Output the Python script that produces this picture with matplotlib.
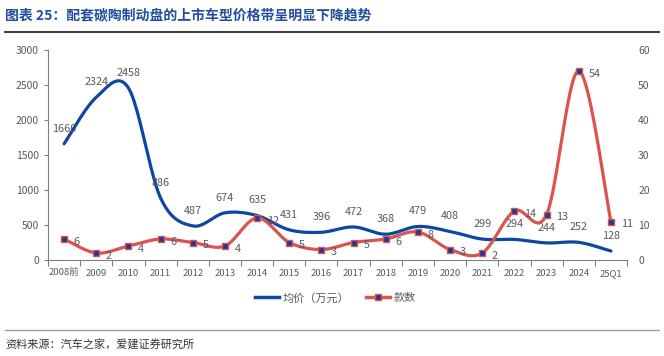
import matplotlib
matplotlib.use('Agg')
import matplotlib.pyplot as plt
import numpy as np
from matplotlib.lines import Line2D

plt.rcParams['font.family'] = ['Noto Sans CJK SC', 'DejaVu Sans']

categories = ['2008前', '2009', '2010', '2011', '2012', '2013', '2014', '2015', '2016',
              '2017', '2018', '2019', '2020', '2021', '2022', '2023', '2024', '25Q1']
avg_price = [1660, 2324, 2458, 886, 487, 674, 635, 431, 396, 472, 368, 479, 408, 299, 294, 244, 252, 128]
model_count = [6, 2, 4, 6, 5, 4, 12, 5, 3, 5, 6, 8, 3, 2, 14, 13, 54, 11]

BLUE = '#0D47A1'
RED = '#D9534F'
MARK = '#1A3A9C'
GRAY = '#595959'


def smooth(x, y, n=24):
    """ Excel-style smoothed line (Bezier through every point). """
    pts = np.column_stack([x, y]).astype(float)
    P = np.vstack([pts[0], pts, pts[-1]])
    segs = []
    for i in range(1, len(P) - 2):
        p0, p1, p2, p3 = P[i - 1], P[i], P[i + 1], P[i + 2]
        c1 = p1 + (p2 - p0) / 6
        c2 = p2 - (p3 - p1) / 6
        t = np.linspace(0, 1, n)[:, None]
        segs.append((1 - t) ** 3 * p1 + 3 * (1 - t) ** 2 * t * c1
                    + 3 * (1 - t) * t ** 2 * c2 + t ** 3 * p2)
    s = np.vstack(segs)
    return s[:, 0], s[:, 1]


fig = plt.figure(figsize=(6.64, 3.56), dpi=100)
ax = fig.add_axes([48 / 664, 1 - 260 / 356, (627 - 48) / 664, (260 - 50) / 356])
ax2 = ax.twinx()

x = np.arange(len(categories))

sx, sy = smooth(x, avg_price)
ax.plot(sx, sy, color=BLUE, lw=2.3, solid_capstyle='round', zorder=3)
for xi, v in zip(x, avg_price):
    ax.annotate(str(v), (xi, v), xytext=(0, 11), textcoords='offset points',
                ha='center', va='center', fontsize=7.8, color=GRAY)

sx2, sy2 = smooth(x, model_count)
ax2.plot(sx2, sy2, color=RED, lw=2.3, solid_capstyle='round', zorder=3)
ax2.plot(x, model_count, ls='none', marker='s', ms=5, mfc=MARK, mec=RED, mew=1.0, zorder=4)
for xi, v in zip(x, model_count):
    ax2.annotate(str(v), (xi, v), xytext=(7, -2), textcoords='offset points',
                 ha='left', va='center', fontsize=7.8, color=GRAY)

ax.set_xlim(-0.5, len(categories) - 0.5)
ax.set_ylim(0, 3000)
ax2.set_ylim(0, 60)
ax.set_yticks(range(0, 3001, 500))
ax2.set_yticks(range(0, 61, 10))
ax.set_xticks(x)
ax.set_xticklabels(categories, va='baseline')
ax.set_xticks(np.arange(-0.5, len(categories), 1), minor=True)
ax.tick_params(axis='x', which='major', length=0, labelsize=6.8, colors=GRAY, pad=11.5)
ax.tick_params(axis='x', which='minor', length=4, color='#808080', width=0.8)
ax.tick_params(axis='y', length=3, color='#808080', width=0.8, labelsize=7.5, colors=GRAY)
ax2.tick_params(axis='y', length=0, labelsize=7.5, colors=GRAY, pad=8)

for a in (ax, ax2):
    a.spines['top'].set_visible(False)
    a.spines['right'].set_visible(False)
ax2.spines['left'].set_visible(False)
ax2.spines['bottom'].set_visible(False)
ax.spines['left'].set_color('#808080')
ax.spines['bottom'].set_color('#808080')

handles = [Line2D([], [], color=BLUE, lw=2.5),
           Line2D([], [], color=RED, lw=2.5, marker='s', ms=5, mfc=MARK, mec=RED)]
fig.legend(handles, ['均价（万元）', '款数'], loc='center', bbox_to_anchor=(0.505, 1 - 298 / 356),
           ncol=2, frameon=False, fontsize=8, handlelength=2.2, columnspacing=1.5,
           handletextpad=0.3, labelcolor=GRAY)

fig.text(5 / 664, 1 - 15 / 356, '图表 25：配套碳陶制动盘的上市车型价格带呈明显下降趋势',
         fontsize=10, fontweight='bold', color='#1F4E9E', ha='left', va='center')
fig.add_artist(Line2D([5 / 664, 659 / 664], [1 - 32 / 356] * 2, color='#404040', lw=1.5))
fig.add_artist(Line2D([5 / 664, 659 / 664], [1 - 330 / 356] * 2, color='#A0A0A0', lw=1.0))
fig.text(5 / 664, 1 - 345 / 356, '资料来源：汽车之家，爱建证券研究所',
         fontsize=8, color='#333333', ha='left', va='center')

fig.savefig('out.png', dpi=100)
